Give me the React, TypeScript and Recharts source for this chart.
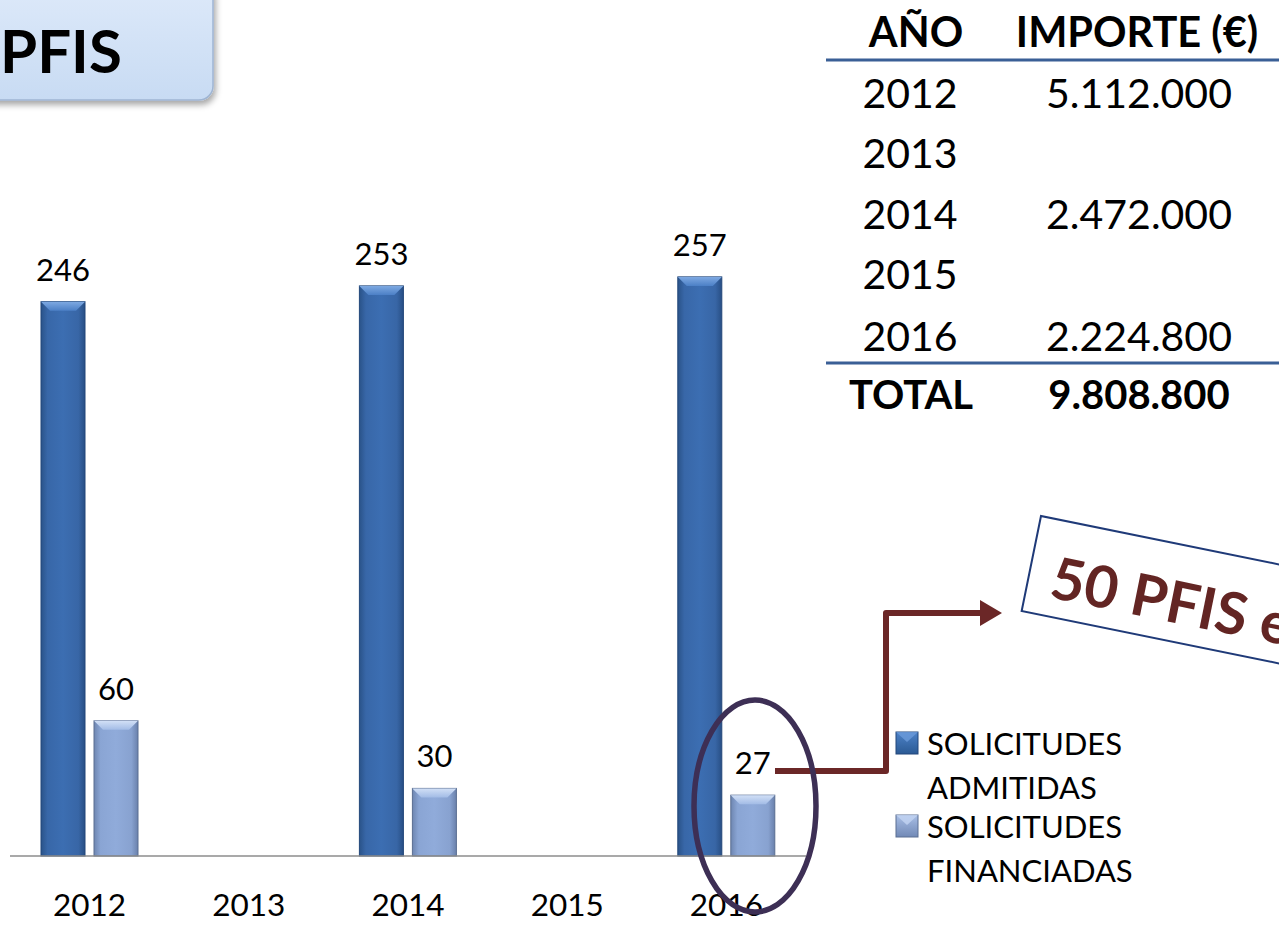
import React from 'react';
import { BarChart, Bar, XAxis, YAxis, LabelList, Legend } from 'recharts';

const years = ['2012', '2013', '2014', '2015', '2016'];
const admitidas: (number | null)[] = [246, null, 253, null, 257];
const financiadas: (number | null)[] = [60, null, 30, null, 27];

const tableYears = ['2012', '2013', '2014', '2015', '2016'];
const tableImportes = ['5.112.000', '', '2.472.000', '', '2.224.800'];
const tableTotal = '9.808.800';

const seriesNames = ['SOLICITUDES ADMITIDAS', 'SOLICITUDES FINANCIADAS'];

const data = years.map((y, i) => ({ year: y, adm: admitidas[i], fin: financiadas[i] }));

const FONT = 'Lato, "Open Sans", sans-serif';

const palette: Record<string, { edge: string; top: string; stroke: string }> = {
  dark: { edge: '#2A5288', top: '#6C9BDB', stroke: '#23477A' },
  light: { edge: '#7088B4', top: '#C3D5F2', stroke: '#5A6E92' },
};

const makeShape = (kind: 'dark' | 'light') => (props: any) => {
  const { x, y, width, height } = props;
  if (height == null || height <= 0 || width == null) return null;
  const b = Math.min(9, height / 2);
  const p = palette[kind];
  return (
    <g>
      <rect x={x} y={y} width={width} height={height} fill={`url(#grad-${kind})`} stroke={p.stroke} strokeWidth={1} />
      <polygon
        points={`${x},${y} ${x + width},${y} ${x + width - b},${y + b} ${x + b},${y + b}`}
        fill={`url(#top-${kind})`}
      />
    </g>
  );
};

const ValueLabel = (props: any) => {
  const { x, y, width, value } = props;
  if (value == null) return null;
  return (
    <text x={x + width / 2} y={y - 21} textAnchor="middle" fontFamily={FONT} fontSize={31} fill="#000">
      {value}
    </text>
  );
};

const Tick = (props: any) => {
  const { x, y, payload } = props;
  return (
    <text x={x} y={y} dy={52} textAnchor="middle" fontFamily={FONT} fontSize={31.5} fill="#000">
      {payload.value}
    </text>
  );
};

const LegendContent = (props: any) => {
  const payload = props.payload || [];
  const baselines = [[35, 79], [118, 162]];
  return (
    <svg width={320} height={180} style={{ display: 'block' }}>
      {payload.map((item: any, i: number) => {
        const words = String(item.value).split(' ');
        const kind = i === 0 ? 'dark' : 'light';
        const p = palette[kind];
        const top = baselines[i][0] - 23;
        return (
          <g key={i}>
            <rect x={16} y={top} width={22} height={22} fill={`url(#lg-${kind})`} stroke={p.stroke} strokeWidth={1} />
            <polygon points={`16,${top} 38,${top} 27,${top + 10}`} fill={p.top} opacity={0.8} />
            {words.map((w, j) => (
              <text key={j} x={47} y={baselines[i][j]} fontFamily={FONT} fontSize={31} fill="#000">
                {w}
              </text>
            ))}
          </g>
        );
      })}
    </svg>
  );
};

export default function App() {
  const rowBase = [108, 168, 229, 289, 351];
  return (
    <div style={{ position: 'absolute', left: 0, top: 0, width: 1279, height: 930, background: '#fff', overflow: 'hidden' }}>
      <svg width={0} height={0} style={{ position: 'absolute' }}>
        <defs>
          <linearGradient id="lg-dark" x1="0" y1="0" x2="0" y2="1">
            <stop offset="0" stopColor="#4D82C8" />
            <stop offset="1" stopColor="#2B5A94" />
          </linearGradient>
          <linearGradient id="lg-light" x1="0" y1="0" x2="0" y2="1">
            <stop offset="0" stopColor="#A9BFE6" />
            <stop offset="1" stopColor="#7189B6" />
          </linearGradient>
        </defs>
      </svg>
      <BarChart
        width={1279}
        height={930}
        data={data}
        margin={{ top: 180, right: 473, bottom: 0, left: 10 }}
        barGap={9}
        barSize={44}
      >
        <defs>
          <linearGradient id="grad-dark" x1="0" y1="0" x2="1" y2="0">
            <stop offset="0" stopColor="#2A5389" />
            <stop offset="0.15" stopColor="#3867A8" />
            <stop offset="0.5" stopColor="#3C6EB2" />
            <stop offset="0.85" stopColor="#3866A6" />
            <stop offset="1" stopColor="#284F85" />
          </linearGradient>
          <linearGradient id="top-dark" x1="0" y1="0" x2="0" y2="1">
            <stop offset="0" stopColor="#7EA9E2" />
            <stop offset="1" stopColor="#4C80C6" />
          </linearGradient>
          <linearGradient id="grad-light" x1="0" y1="0" x2="1" y2="0">
            <stop offset="0" stopColor="#6E86B1" />
            <stop offset="0.15" stopColor="#8AA5D4" />
            <stop offset="0.5" stopColor="#90ABDA" />
            <stop offset="0.85" stopColor="#88A2D0" />
            <stop offset="1" stopColor="#6A81AC" />
          </linearGradient>
          <linearGradient id="top-light" x1="0" y1="0" x2="0" y2="1">
            <stop offset="0" stopColor="#D2E0F6" />
            <stop offset="1" stopColor="#A3BCE6" />
          </linearGradient>
        </defs>
        <XAxis
          dataKey="year"
          height={74}
          axisLine={{ stroke: '#8C8C8C', strokeWidth: 1.5 }}
          tickLine={false}
          tick={<Tick />}
          interval={0}
        />
        <YAxis hide domain={[0, 300]} />
        <Legend
          layout="vertical"
          align="center"
          verticalAlign="middle"
          content={<LegendContent />}
          wrapperStyle={{ position: 'absolute', left: 880, top: 720, width: 320, height: 180 }}
        />
        <Bar dataKey="adm" name={seriesNames[0]} fill="#3C6EB2" shape={makeShape('dark')} isAnimationActive={false}>
          <LabelList dataKey="adm" content={<ValueLabel />} />
        </Bar>
        <Bar dataKey="fin" name={seriesNames[1]} fill="#90ABDA" shape={makeShape('light')} isAnimationActive={false}>
          <LabelList dataKey="fin" content={<ValueLabel />} />
        </Bar>
      </BarChart>

      <svg
        width={1279}
        height={930}
        style={{ position: 'absolute', left: 0, top: 0, pointerEvents: 'none' }}
      >
        <defs>
          <linearGradient id="title-grad" x1="0" y1="0" x2="0" y2="1">
            <stop offset="0" stopColor="#DEEAFA" />
            <stop offset="1" stopColor="#C8DBF3" />
          </linearGradient>
          <filter id="shadow" x="-20%" y="-20%" width="140%" height="150%">
            <feDropShadow dx="2" dy="4" stdDeviation="3" floodColor="#000" floodOpacity="0.35" />
          </filter>
        </defs>

        {/* Title box */}
        <rect x={-20} y={-20} width={233} height={120} rx={14} fill="url(#title-grad)" stroke="#9FB5D3" strokeWidth={1.5} filter="url(#shadow)" />
        <text x={0} y={73} fontFamily={FONT} fontWeight={700} fontSize={60} fill="#000">PFIS</text>

        {/* Table */}
        <text x={916} y={47} textAnchor="middle" fontFamily={FONT} fontWeight={700} fontSize={41.5} fill="#000">AÑO</text>
        <text x={1137} y={47} textAnchor="middle" fontFamily={FONT} fontWeight={700} fontSize={41.5} fill="#000">IMPORTE (€)</text>
        <line x1={826} y1={60} x2={1279} y2={60} stroke="#3A5F96" strokeWidth={3} />
        {tableYears.map((y, i) => (
          <g key={y}>
            <text x={910} y={rowBase[i]} textAnchor="middle" fontFamily={FONT} fontSize={41} fill="#000">{y}</text>
            <text x={1139} y={rowBase[i]} textAnchor="middle" fontFamily={FONT} fontSize={41} fill="#000">{tableImportes[i]}</text>
          </g>
        ))}
        <line x1={826} y1={363} x2={1279} y2={363} stroke="#3A5F96" strokeWidth={3} />
        <text x={911} y={409} textAnchor="middle" fontFamily={FONT} fontWeight={700} fontSize={40} fill="#000">TOTAL</text>
        <text x={1139} y={409} textAnchor="middle" fontFamily={FONT} fontWeight={700} fontSize={40} fill="#000">{tableTotal}</text>

        {/* Annotation box */}
        <g transform="rotate(11.5 1041 516)">
          <rect x={1041} y={516} width={420} height={97} fill="#fff" stroke="#1F3A78" strokeWidth={2} />
          <text x={1064} y={594} fontFamily={FONT} fontWeight={700} fontSize={58} fill="#632523">50 PFIS en</text>
        </g>

        {/* Arrow */}
        <polyline points="775,771 886,771 886,613 984,613" fill="none" stroke="#6B2727" strokeWidth={6} strokeLinejoin="round" />
        <polygon points="980,600 1002,613 980,626" fill="#6B2727" />

        {/* Ellipse */}
        <ellipse cx={755} cy={806} rx={61} ry={106} fill="none" stroke="#3D2F55" strokeWidth={5.5} />
      </svg>
    </div>
  );
}
